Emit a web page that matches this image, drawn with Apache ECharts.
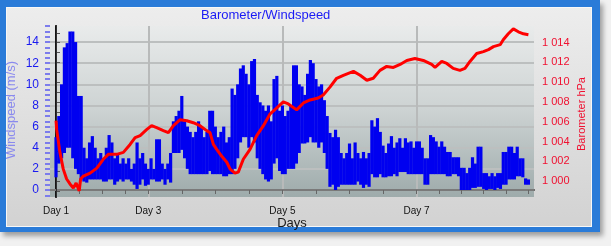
<!DOCTYPE html>
<html>
<head>
<meta charset="utf-8">
<script src="https://cdn.jsdelivr.net/npm/echarts@6/dist/echarts.min.js"></script>
<style>
html,body{margin:0;padding:0;background:#f1f1f1;}
#frame{position:absolute;left:0;top:0;width:600px;height:232px;box-sizing:border-box;
 border-style:solid;border-color:#2a7bd8;border-width:7px 8px 5px 6px;
 background:linear-gradient(#ededed,#d2d2d2);
 box-shadow:3px 4px 5px rgba(0,0,0,0.35), inset 0 0 0 1px #f7f7f7;}
#chart{position:absolute;left:0;top:0;width:611px;height:246px;}
</style>
</head>
<body>
<div id="frame"></div>
<div id="chart"></div>
<script>
// ---- data (x = hours since first sample) ----
const windHigh = [
5.0, 7.0, 10.0, 13.5, 13.9, 15.0, 15.0, 14.0, 8.9, 8.9,
4.0, 3.0, 4.5, 5.1, 4.0, 3.0, 3.5, 3.0, 4.0, 5.2,
4.5, 3.0, 3.5, 2.5, 3.0, 2.5, 3.0, 2.0, 2.5, 4.5,
3.0, 3.5, 2.5, 2.0, 3.0, 2.0, 4.8, 4.8, 2.5, 2.0,
2.5, 3.5, 6.5, 7.0, 7.5, 8.9, 6.5, 6.0, 5.5, 5.0,
5.5, 6.5, 6.0, 5.0, 5.5, 7.5, 7.5, 6.0, 5.0, 5.5,
6.0, 4.5, 5.0, 9.6, 9.0, 10.0, 11.5, 11.8, 11.0, 10.0,
12.2, 12.4, 9.0, 8.3, 8.0, 7.5, 8.0, 6.5, 10.5, 10.8,
7.5, 8.0, 7.0, 7.5, 8.0, 11.8, 11.8, 10.0, 9.8, 9.0,
11.0, 12.3, 12.0, 10.5, 9.8, 10.0, 8.5, 7.0, 5.4, 5.0,
5.7, 5.0, 3.5, 3.0, 3.5, 4.4, 3.0, 4.5, 3.5, 3.0,
3.6, 3.0, 3.5, 6.6, 6.0, 6.8, 5.5, 4.2, 3.5, 4.4,
5.1, 4.0, 4.5, 4.9, 4.0, 4.9, 4.5, 4.6, 4.0, 4.6,
4.6, 4.0, 3.0, 3.0, 5.2, 5.0, 4.6, 4.1, 4.6, 4.1,
3.6, 3.6, 3.1, 3.1, 3.1, 2.1, 2.1, 1.6, 2.1, 3.1,
2.5, 4.1, 4.1, 1.6, 1.6, 1.3, 1.6, 1.3, 1.6, 1.6,
3.6, 3.6, 4.1, 4.1, 3.5, 4.1, 3.0, 3.0, 1.1, 1.0
];
const windLow = [
1.2, 2.5, 3.0, 3.5, 4.0, 4.0, 3.0, 2.0, 1.5, 1.0,
0.8, 0.7, 1.0, 1.0, 1.0, 1.0, 1.0, 0.8, 0.8, 1.0,
1.0, 0.5, 0.8, 1.0, 0.8, 1.0, 1.0, 0.8, 0.5, 0.1,
0.5, 1.0, 0.4, 0.5, 1.0, 1.0, 0.8, 0.8, 1.0, 0.5,
1.0, 0.7, 3.5, 3.5, 3.5, 3.8, 3.0, 2.0, 1.5, 1.5,
1.5, 1.5, 1.5, 1.5, 1.5, 1.8, 1.5, 1.5, 1.5, 1.5,
1.3, 1.3, 1.5, 1.5, 2.0, 3.0, 4.5, 5.0, 5.0, 4.0,
5.0, 4.5, 3.0, 2.0, 1.5, 1.0, 0.8, 1.0, 2.5, 3.0,
1.8, 1.5, 1.5, 2.0, 2.0, 2.0, 2.5, 3.5, 4.4, 4.4,
4.5, 5.0, 4.5, 4.5, 4.0, 4.5, 3.5, 2.0, 0.3, 0.5,
0.0, 0.3, 0.5, 0.5, 0.5, 0.5, 0.5, 0.5, 0.8, 0.5,
0.2, 0.5, 0.3, 1.5, 1.2, 1.2, 1.5, 1.2, 1.2, 1.3,
1.3, 1.5, 1.3, 1.7, 1.7, 1.7, 1.5, 1.5, 1.5, 1.5,
1.5, 1.5, 0.5, 0.5, 1.5, 1.5, 1.5, 1.5, 1.5, 1.5,
1.3, 1.3, 1.5, 1.5, 1.3, 0.0, 0.0, 0.0, 0.0, 0.2,
0.2, 0.3, 0.3, 0.1, 0.0, 0.1, 0.1, 0.0, 0.2, 0.1,
0.5, 0.5, 1.0, 1.0, 1.0, 1.3, 1.3, 1.2, 0.5, 0.5
];
const baroHours = [0, 0.24, 1.4, 2.6, 3.8, 5.0, 6.2, 7.2, 8.3, 8.8,
 9.8, 12.2, 14.6, 16.9, 18.7, 21.7, 24.1, 26.5, 28.3, 30.1,
 32.4, 34.2, 36.0, 38.4, 40.2, 42.0, 44.4, 46.8, 49.1, 51.5,
 53.9, 55.1, 56.3, 57.5, 59.3, 61.1, 62.3, 64.0, 65.2, 67.0,
 69.4, 71.8, 74.2, 76.6, 79.0, 81.3, 83.1, 86.1, 88.5, 90.9,
 93.8, 95.6, 98.0, 100.4, 102.8, 106.4, 108.8, 111.2, 113.5, 115.9,
 118.3, 120.7, 123.1, 125.5, 128.4, 131.4, 134.4, 135.6, 138.0, 139.8,
 142.1, 144.5, 146.3, 148.1, 150.5, 152.9, 154.7, 156.5, 158.9, 160.0,
 161.8, 163.6, 165.4, 167.2, 169.0];
const baroValues = [1006.1, 1005.2, 1002.9, 1001.2, 1000.2, 999.7, 999.3, 999.8, 999.0, 1000.2,
 1000.5, 1000.8, 1001.3, 1002.2, 1002.7, 1002.7, 1002.9, 1003.7, 1004.4, 1004.6,
 1005.2, 1005.6, 1005.4, 1005.1, 1004.9, 1005.6, 1006.2, 1006.1, 1005.9, 1005.6,
 1005.1, 1004.9, 1003.7, 1003.2, 1002.5, 1001.9, 1001.2, 1000.8, 1000.9, 1002.2,
 1003.2, 1004.6, 1005.6, 1006.8, 1007.4, 1008.0, 1007.8, 1007.2, 1007.9, 1008.2,
 1008.4, 1008.7, 1009.5, 1010.4, 1010.7, 1011.1, 1010.7, 1010.2, 1010.4, 1011.2,
 1011.6, 1011.5, 1011.8, 1012.2, 1012.4, 1012.2, 1011.8, 1011.5, 1012.1, 1011.9,
 1011.4, 1011.2, 1011.4, 1012.1, 1012.9, 1013.1, 1013.3, 1013.6, 1013.8, 1014.3,
 1014.9, 1015.4, 1015.1, 1014.9, 1014.8];

// ---- axis ticks / labels ----
const dayTicks = [0, 33, 81, 129];
const dayLabels = ['Day 1', 'Day 3', 'Day 5', 'Day 7'];
const dayGridLines = [33, 81, 129];
const xMinorTicks = [0, 8.2, 16.4, 24.7, 33, 45, 57, 69, 81, 93, 105, 117, 129, 137, 145, 153, 161, 169];
const windTicks = [0, 2, 4, 6, 8, 10, 12, 14];
const windMinorTicks = [-0.5, 0, 0.5, 1, 1.5, 2, 2.5, 3, 3.5, 4, 4.5, 5, 5.5, 6, 6.5, 7, 7.5, 8, 8.5, 9, 9.5, 10, 10.5, 11, 11.5, 12, 12.5, 13, 13.5, 14, 14.5, 15, 15.5];
const baroTicks = [1000, 1002, 1004, 1006, 1008, 1010, 1012, 1014];
const baroMinorTicks = [999, 1000, 1001, 1002, 1003, 1004, 1005, 1006, 1007, 1008, 1009, 1010, 1011, 1012, 1013, 1014, 1015];

const chart = echarts.init(document.getElementById('chart'), null, {renderer: 'canvas'});
const FONT = '"Liberation Sans", Arial, sans-serif';
const X_MIN = -2.15, X_MAX = 171.0;
const W_MIN = -0.662, W_MAX = 15.52;
const B_MIN = 998.38, B_MAX = 1015.69;

const option = {
  animation: false,
  backgroundColor: 'transparent',
  grid: {
    left: 50, right: 77, top: 26, bottom: 49, show: true, borderWidth: 0,
    backgroundColor: new echarts.graphic.LinearGradient(0, 0, 0, 1, [
      {offset: 0, color: '#e9ebeb'}, {offset: 0.5, color: '#ccd2d2'}, {offset: 1, color: '#9eabab'}
    ])
  },
  xAxis: [
    {
      type: 'value', min: X_MIN, max: X_MAX, position: 'bottom',
      axisLine: {show: true, lineStyle: {color: '#222', width: 2}},
      axisTick: {show: true, customValues: xMinorTicks, length: 4, lineStyle: {color: '#666', width: 1}},
      axisLabel: {customValues: dayTicks, formatter: v => dayLabels[dayTicks.indexOf(v)],
        fontSize: 10, color: '#111', margin: 9, fontFamily: FONT},
      splitLine: {show: false}
    },
    {
      type: 'value', min: X_MIN, max: X_MAX, position: 'top',
      axisLine: {show: true, lineStyle: {color: '#7a7a7a', width: 2}},
      axisTick: {show: false, customValues: dayGridLines},
      axisLabel: {show: false},
      splitLine: {show: true, lineStyle: {color: '#b8baba', width: 2}}
    }
  ],
  yAxis: [
    {
      type: 'value', min: W_MIN, max: W_MAX, position: 'left',
      axisLine: {show: true, lineStyle: {color: '#808080', width: 2}},
      axisTick: {show: false, customValues: windTicks},
      axisLabel: {customValues: windTicks, color: '#1a1af0', fontSize: 12, margin: 11, fontFamily: FONT},
      splitLine: {show: true, lineStyle: {color: '#bcbfbf', width: 2}}
    },
    {
      type: 'value', min: B_MIN, max: B_MAX, position: 'right',
      axisLine: {show: true, lineStyle: {color: '#151515', width: 2}},
      axisTick: {show: true, customValues: baroMinorTicks, length: 4, lineStyle: {color: '#555', width: 1}},
      axisLabel: {customValues: baroTicks, formatter: v => String(v).replace(/^(\d)(\d{3})$/, '$1 $2'),
        color: '#f01030', fontSize: 11, margin: 8, fontFamily: FONT},
      splitLine: {show: false}
    },
    {
      type: 'value', min: W_MIN, max: W_MAX, position: 'left',
      axisLine: {show: false},
      axisTick: {show: true, customValues: windMinorTicks, length: 5, lineStyle: {color: '#7c7cec', width: 2}},
      axisLabel: {show: false},
      splitLine: {show: false}
    }
  ],
  series: [
    {
      name: 'Windspeed', type: 'custom', xAxisIndex: 0, yAxisIndex: 0, z: 3,
      data: windHigh.map((v, i) => [i, windLow[i], v]),
      encode: {x: 0, y: [1, 2]},
      renderItem: function (params, api) {
        const p0 = api.coord([api.value(0), api.value(1)]);
        const p1 = api.coord([api.value(0), api.value(2)]);
        const w = api.size([1, 0])[0] + 0.4;
        return {
          type: 'rect',
          shape: {x: p0[0] - w / 2, y: p1[1], width: w, height: Math.max(1, p0[1] - p1[1])},
          style: {fill: '#0000f0'}
        };
      },
      markLine: {
        silent: true, symbol: 'none', z: 2, label: {show: false},
        lineStyle: {color: '#303030', width: 1, type: 'solid'},
        data: [{xAxis: dayTicks[0]}]
      }
    },
    {
      name: 'Barometer', type: 'line', xAxisIndex: 0, yAxisIndex: 1, z: 5,
      symbol: 'none', lineStyle: {color: '#ff0000', width: 3},
      data: baroHours.map((h, i) => [h, baroValues[i]])
    }
  ],
  graphic: [
    {type: 'text', left: 266 - 65, top: 9, style: {text: 'Barometer/Windspeed', fill: '#1a1af5', font: '13px ' + FONT}},
    {type: 'text', x: 11, y: 110, rotation: Math.PI / 2,
      style: {text: 'Windspeed (m/s)', fill: '#8a8aee', font: '13px ' + FONT, align: 'center', verticalAlign: 'middle'}},
    {type: 'text', x: 582, y: 114, rotation: Math.PI / 2,
      style: {text: 'Barometer hPa', fill: '#f01030', font: '11px ' + FONT, align: 'center', verticalAlign: 'middle'}},
    {type: 'text', x: 292, y: 223,
      style: {text: 'Days', fill: '#1a1a1a', font: '13px ' + FONT, align: 'center', verticalAlign: 'middle'}}
  ]
};
chart.setOption(option);
</script>
</body>
</html>
